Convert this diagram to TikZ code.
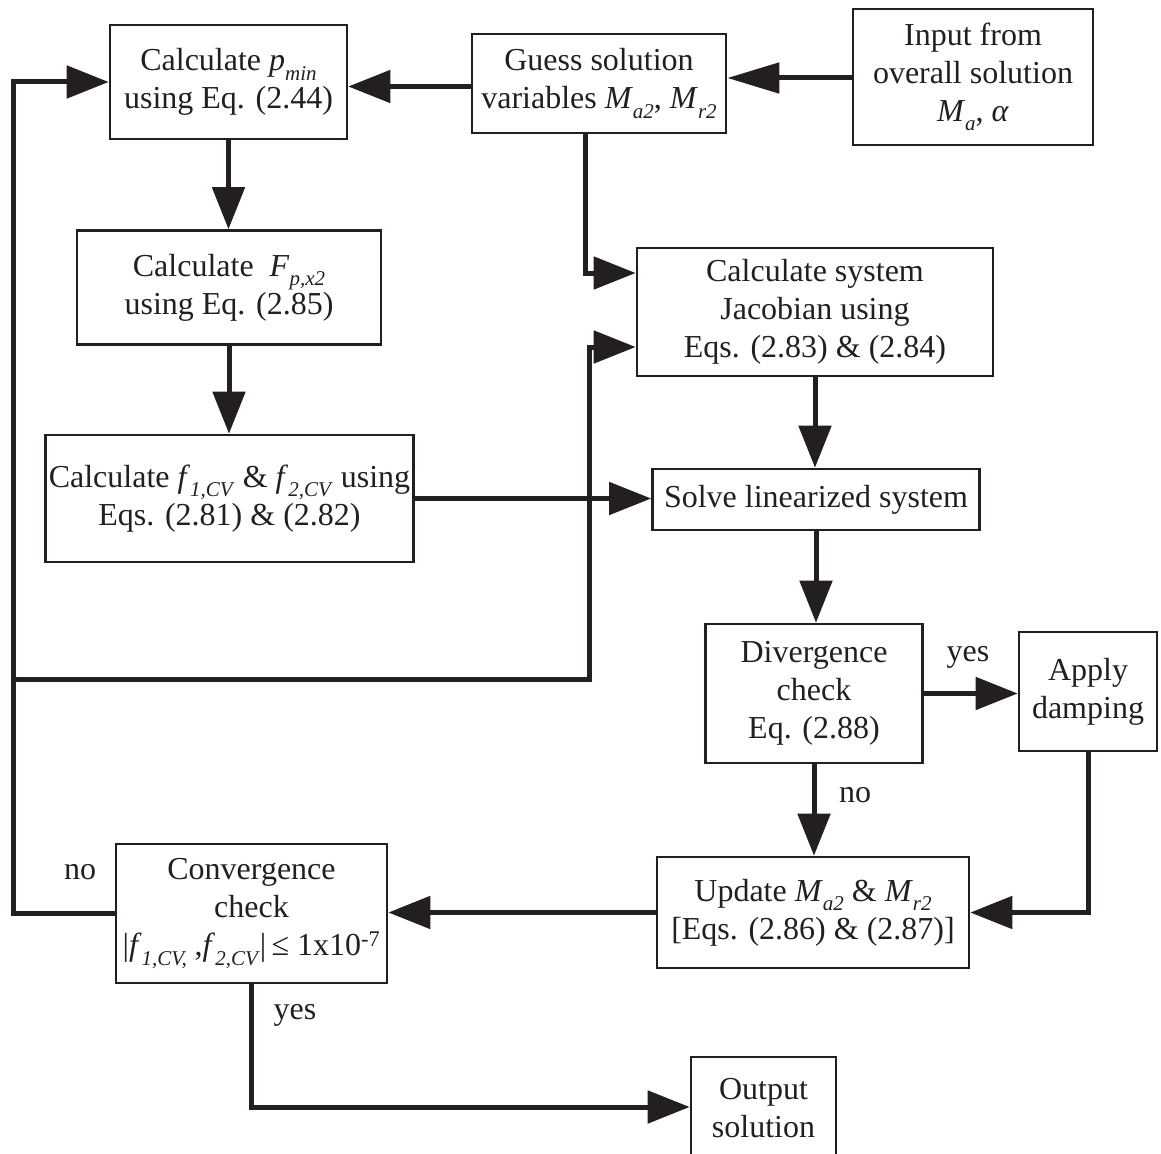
\documentclass[tikz,border=0pt]{standalone}
\usepackage{fontspec}
\setmainfont{Liberation Serif}
\usetikzlibrary{arrows.meta}
\definecolor{ink}{RGB}{35,31,32}
\newcommand\sbx[1]{\raisebox{-0.3em}{\fontsize{21}{21}\selectfont\textit{#1}}}
\newcommand\fsz{\fontsize{32}{38}\selectfont}
\begin{document}
\begin{tikzpicture}[x=1pt,y=-1pt,
  box/.style={draw=ink, line width=2.6pt, align=center, inner sep=0pt, font=\fsz, text=ink},
  lbl/.style={font=\fsz, text=ink, inner sep=0pt},
  conn/.style={draw=ink, line width=5pt},
  arr/.style={conn, -{Triangle[length=42pt,width=32pt]}},
  longarr/.style={conn, -{Triangle[length=52pt,width=30pt]}}]
\useasboundingbox (0,0) rectangle (1161,1153);
\node[box, minimum width=237pt, minimum height=114pt] (pmin) at (228.5,82) {Calculate \textit{p}\sbx{min}\\using Eq. (2.44)};
\node[box, minimum width=254pt, minimum height=99pt] (guess) at (599,83.5) {Guess solution\\variables \textit{M}\sbx{a2}, \textit{M}\sbx{r2}};
\node[box, minimum width=240pt, minimum height=136pt] (input) at (973,77) {Input from\\overall solution\\\textit{M}\sbx{a}, \textit{α}};
\node[box, minimum width=304pt, minimum height=114pt] (fpx) at (229,287.5) {Calculate\ \ \textit{F}\sbx{p,x2}\\using Eq. (2.85)};
\node[box, minimum width=368pt, minimum height=127pt] (fcv) at (229.5,498.5) {Calculate \textit{f}\sbx{1,CV} \& \textit{f}\sbx{2,CV} using\\Eqs. (2.81) \& (2.82)};
\node[box, minimum width=356pt, minimum height=128pt] (jac) at (815,312) {Calculate system\\Jacobian using\\Eqs. (2.83) \& (2.84)};
\node[box, minimum width=327pt, minimum height=61pt] (solve) at (816,499.5) {Solve linearized system};
\node[box, minimum width=217pt, minimum height=139pt] (div) at (814,693.5) {Divergence\\check\\Eq. (2.88)};
\node[box, minimum width=138pt, minimum height=119pt] (apply) at (1088,691.5) {Apply\\damping};
\node[box, minimum width=312pt, minimum height=111pt] (update) at (813,912.5) {Update \textit{M}\sbx{a2} \& \textit{M}\sbx{r2}\\{[}Eqs. (2.86) \& (2.87)]};
\node[box, minimum width=271pt, minimum height=139pt] (conv) at (251.5,913.5) {Convergence\\check\\|\textit{f}\sbx{1,CV,} ,\textit{f}\sbx{2,CV}|\,≤ 1x10\textsuperscript{-7}};
\node[box, minimum width=145pt, minimum height=108pt] (out) at (763.5,1111) {\raisebox{7pt}{\begin{tabular}{@{}c@{}}Output\\solution\end{tabular}}};
\coordinate (lx) at (13,679);
\coordinate (jx) at (589,679);
% connectors
\draw[longarr] ([yshift=-1pt]input.west) -- ([yshift=-1pt]input.west -| guess.east);
\draw[arr] ([yshift=-3pt]guess.west) -- ([yshift=-3pt]guess.west -| pmin.east);
\draw[arr] (pmin.south) -- (pmin.south |- fpx.north);
\draw[arr] (fpx.south) -- (fpx.south |- fcv.north);
\draw[arr] ([xshift=-14pt]guess.south) |- ([yshift=39pt]jac.west);
\draw[arr] (fcv.east) -- (fcv.east -| solve.west);
\draw[arr] (jac.south) -- (jac.south |- solve.north);
\draw[arr] (solve.south) -- (solve.south |- div.north);
\draw[arr] (div.east) -- (div.east -| apply.west);
\draw[arr] (div.south) -- (div.south |- update.north);
\draw[arr] (apply.south) |- (update.east);
\draw[arr] (update.west) -- (update.west -| conv.east);
\draw[arr] (conv.west) -- (conv.west -| lx) -- (lx |- pmin.west) -- (pmin.west);
\draw[arr] (lx) -- (jx) |- ([yshift=-35pt]jac.west);
\draw[arr] (conv.south) |- ([yshift=4pt]out.west);
% labels
\node[lbl] (lyes1) at (968,657) {yes};
\node[lbl] (lno1) at (855,795) {no};
\node[lbl] (lno2) at (80,872) {no};
\node[lbl] (lyes2) at (295,1015) {yes};
\end{tikzpicture}
\end{document}
